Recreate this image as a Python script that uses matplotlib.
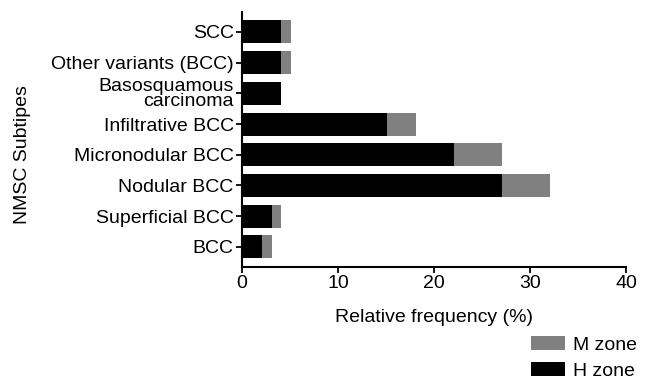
import matplotlib.pyplot as plt
import numpy as np

plt.rcParams['font.family'] = ['Liberation Sans', 'DejaVu Sans']

categories = ['BCC', 'Superficial BCC', 'Nodular BCC', 'Micronodular BCC',
              'Infiltrative BCC', 'Basosquamous\ncarcinoma',
              'Other variants (BCC)', 'SCC']
h_zone = [2.1, 3.1, 27.1, 22.1, 15.1, 4.1, 4.1, 4.1]
m_zone = [1.0, 1.0, 5.0, 5.0, 3.0, 0.0, 1.0, 1.0]

fs = 14

fig = plt.figure(figsize=(6.47, 3.84), dpi=100)
ax = fig.add_axes([0.374, 0.305, 0.5935, 0.664])

y = np.arange(len(categories))
hb = ax.barh(y, h_zone, height=0.75, color='black', label='H zone')
mb = ax.barh(y, m_zone, left=h_zone, height=0.75, color='#808080', label='M zone')

ax.set_xlim(0, 40)
ax.set_ylim(-0.65, 7.65)
ax.set_xticks([0, 10, 20, 30, 40])
ax.set_yticks(y)
ax.set_yticklabels(categories, linespacing=0.8)
ax.tick_params(axis='both', labelsize=fs, width=1.3, length=4, direction='out', pad=2)
for s in ['top', 'right']:
    ax.spines[s].set_visible(False)
for s in ['left', 'bottom']:
    ax.spines[s].set_linewidth(1.5)

ax.set_xlabel('Relative frequency (%)', fontsize=fs, labelpad=12)
ax.set_ylabel('NMSC Subtipes', fontsize=fs)
ax.yaxis.set_label_coords(-0.55, 0.44)

fig.legend([mb, hb], ['M zone', 'H zone'], loc='lower right',
           bbox_to_anchor=(1.012, -0.035), frameon=False, fontsize=fs,
           handlelength=1.7, handleheight=0.7, labelspacing=0.45,
           handletextpad=0.45)

fig.savefig('out.png', dpi=100)
